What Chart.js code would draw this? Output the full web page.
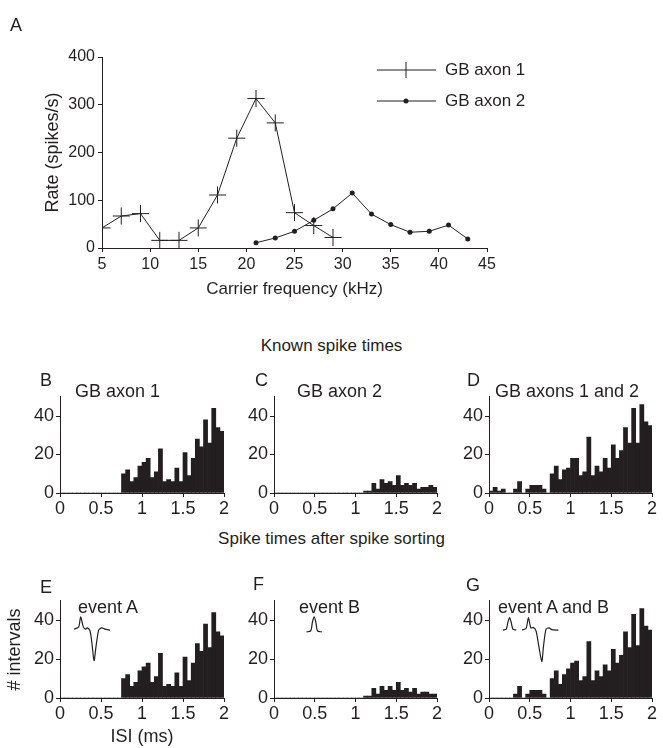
<!DOCTYPE html>
<html>
<head>
<meta charset="utf-8">
<script src="https://cdn.jsdelivr.net/npm/chart.js@4/dist/chart.umd.min.js"></script>
<style>
  html, body { margin: 0; padding: 0; background: #fff; }
  body { width: 663px; height: 748px; position: relative; overflow: hidden;
         font-family: "Liberation Sans", Arial, sans-serif; color: #231f20; }
  .box { position: absolute; }
  .txt { position: absolute; font-size: 18px; line-height: 18px; white-space: nowrap; }
  .head { position: absolute; font-size: 17px; line-height: 17px; white-space: nowrap;
          left: 0; width: 663px; text-align: center; }
</style>
</head>
<body>
<div class="box" id="boxA"><canvas id="chartA"></canvas></div>
<div class="box" id="boxB"><canvas id="chartB"></canvas></div>
<div class="box" id="boxC"><canvas id="chartC"></canvas></div>
<div class="box" id="boxD"><canvas id="chartD"></canvas></div>
<div class="box" id="boxE"><canvas id="chartE"></canvas></div>
<div class="box" id="boxF"><canvas id="chartF"></canvas></div>
<div class="box" id="boxG"><canvas id="chartG"></canvas></div>

<div class="txt" style="left:10px;top:16px">A</div>
<div class="head" style="top:337px">Known spike times</div>
<div class="head" style="top:530px">Spike times after spike sorting</div>

<div class="txt" style="left:40px;top:371px">B</div>
<div class="txt" style="left:255px;top:371px">C</div>
<div class="txt" style="left:467px;top:371px">D</div>
<div class="txt" style="left:75px;top:382px">GB axon 1</div>
<div class="txt" style="left:297px;top:382px">GB axon 2</div>
<div class="txt" style="left:495px;top:382px">GB axons 1 and 2</div>

<div class="txt" style="left:40px;top:578px">E</div>
<div class="txt" style="left:253px;top:575px">F</div>
<div class="txt" style="left:466px;top:576px">G</div>
<div class="txt" style="left:78px;top:598px">event A</div>
<div class="txt" style="left:299px;top:598px">event B</div>
<div class="txt" style="left:498px;top:598px">event A and B</div>

<script>
const INK = "#231f20";

// ---- panel A: tuning curves ----
const freqAxon1 = [5, 7, 9, 11, 13, 15, 17, 19, 21, 23, 25, 27, 29];
const rateAxon1 = [42, 67, 72, 16, 16, 42, 111, 230, 313, 262, 74, 47, 22];
const freqAxon2 = [21, 23, 25, 27, 29, 31, 33, 35, 37, 39, 41, 43];
const rateAxon2 = [11, 21, 35, 58, 82, 115, 71, 49, 33, 35, 48, 19];
const legendLabels = ["GB axon 1", "GB axon 2"];

// ---- ISI histograms, 0.05 ms bins from 0 to 2 ms ----
const BIN = 0.05;
const isiTicks = [0, 0.5, 1, 1.5, 2];
const countsAxon1 = [0,0,0,0,0, 0,0,0,0,0, 0,0,0,0,0,
  10,12,6,8,14, 16,18,8,11,23, 6,7,6,13,6, 21,9,18,28,24, 38,26,44,34,32];
const countsAxon2 = [0,0,0,0,0, 0,0,0,0,0, 0,0,0,0,0, 0,0,0,0,0, 0,0,
  1,1,5,2,7, 5,6,4,9,4, 5,4,5,2,3, 3,4,3];
const countsBoth = [1,3,1,2,0, 0,2,6,0,2, 4,4,4,2,0,
  10,14,7,12,13, 18,18,9,11,29, 9,14,11,18,13, 25,18,22,34,26, 44,26,46,37,35];
const countsEventA = [0,0,0,0,0, 0,0,0,0,0, 0,0,0,0,0,
  10,12,6,8,14, 16,18,8,11,23, 6,7,6,13,6, 21,9,18,28,24, 38,26,44,34,32];
const countsEventB = [0,0,0,0,0, 0,0,0,0,0, 0,0,0,0,0, 0,0,0,0,0, 0,0,
  1,1,5,2,6, 4,6,4,8,4, 5,3,5,2,3, 3,2,2];
const countsEventAB = [0,0,0,0,0, 0,2,6,0,2, 4,4,4,2,0,
  10,14,7,12,15, 18,19,9,11,29, 9,14,11,17,14, 25,18,22,34,26, 43,27,46,37,35];

// spike waveform insets, drawn in the histogram's own units (ms, counts)
const waveA_x = [0.171, 0.228, 0.252, 0.284, 0.309, 0.333, 0.366, 0.39, 0.415, 0.439, 0.472, 0.508, 0.549, 0.61];
const waveA_y = [35.4, 36.6, 41.7, 36.6, 35.4, 36.1, 34.5, 28, 19.2, 26.4, 34.9, 36.1, 35.4, 34.9];
const waveB_x = [0.398, 0.451, 0.472, 0.492, 0.513, 0.533, 0.586];
const waveB_y = [34, 34.5, 39.1, 41.7, 39.1, 34.5, 34];
const waveGB_x = [0.171, 0.212, 0.232, 0.252, 0.272, 0.293, 0.334];
const waveGB_y = [34.9, 35.4, 39, 41.4, 39, 35.4, 34.9];
const waveGA_x = [0.407, 0.456, 0.484, 0.513, 0.545, 0.578, 0.606, 0.648, 0.668, 0.70, 0.737, 0.77, 0.851];
const waveGA_y = [34.9, 35.9, 41.4, 36, 36.3, 34.4, 28, 18.8, 26.4, 35.4, 36.1, 35.2, 34.9];

Chart.defaults.font.family = '"Liberation Sans", Arial, sans-serif';
Chart.defaults.color = INK;
Chart.defaults.animation = false;

const pts = (xs, ys) => xs.map((x, i) => ({ x, y: ys[i] }));

function sizeBox(id, l, t, w, h) {
  const b = document.getElementById(id);
  b.style.left = l + "px"; b.style.top = t + "px";
  b.style.width = w + "px"; b.style.height = h + "px";
}

// ---- panel A ----
sizeBox("boxA", 0, 0, 663, 320);

const legendA = {
  id: "legendA",
  afterDraw(chart) {
    const ctx = chart.ctx;
    ctx.save();
    ctx.strokeStyle = INK; ctx.fillStyle = INK; ctx.lineWidth = 1;
    [70, 101].forEach((y, i) => {
      ctx.beginPath(); ctx.moveTo(377, y); ctx.lineTo(436, y); ctx.stroke();
      if (i === 0) {
        ctx.beginPath(); ctx.moveTo(406, y - 8); ctx.lineTo(406, y + 8); ctx.stroke();
      } else {
        ctx.beginPath(); ctx.arc(406, y, 2.5, 0, Math.PI * 2); ctx.fill();
      }
      ctx.font = '17px "Liberation Sans", Arial, sans-serif';
      ctx.textBaseline = "middle";
      ctx.fillText(legendLabels[i], 445, y);
    });
    ctx.restore();
  }
};

new Chart(document.getElementById("chartA"), {
  type: "line",
  data: {
    datasets: [
      { label: legendLabels[0], data: pts(freqAxon1, rateAxon1), borderColor: INK, borderWidth: 1,
        pointStyle: "cross", pointRadius: 8.5, pointBorderWidth: 1, pointBorderColor: INK },
      { label: legendLabels[1], data: pts(freqAxon2, rateAxon2), borderColor: INK, borderWidth: 1,
        pointStyle: "circle", pointRadius: 2.5, pointBackgroundColor: INK, pointBorderColor: INK, pointBorderWidth: 0 }
    ]
  },
  options: {
    responsive: true, maintainAspectRatio: false,
    layout: { padding: { left: 38, top: 57, right: 176, bottom: 16 } },
    plugins: { legend: { display: false }, tooltip: { enabled: false } },
    scales: {
      x: {
        type: "linear", min: 5, max: 45,
        ticks: { stepSize: 5, font: { size: 16 }, padding: 3, maxRotation: 0 },
        grid: { drawOnChartArea: false, tickLength: 4, color: INK },
        border: { color: INK, width: 1 },
        title: { display: true, text: "Carrier frequency (kHz)", font: { size: 17 } },
        afterFit: s => { s.height = 56; }
      },
      y: {
        min: 0, max: 400,
        ticks: { stepSize: 100, font: { size: 16 }, padding: 3 },
        grid: { drawOnChartArea: false, tickLength: 4, color: INK },
        border: { color: INK, width: 1 },
        title: { display: true, text: "Rate (spikes/s)", font: { size: 18 } },
        afterFit: s => { s.width = 64; }
      }
    }
  },
  plugins: [legendA]
});

// ---- histograms ----
const PAD = 12, YW = 60;
function hist(key, area, counts, waves, xh, withTitles) {
  sizeBox("box" + key, area[0] - YW, area[2] - PAD, area[1] - area[0] + YW + PAD, area[3] - area[2] + PAD + xh);
  const bars = counts.map((c, i) => ({ x: (i + 0.5) * BIN, y: c }));
  const datasets = [{
    type: "bar", data: bars, backgroundColor: INK, borderWidth: 0,
    barPercentage: 1, categoryPercentage: 1, order: 2
  }];
  waves.forEach(w => datasets.push({
    type: "line", data: pts(w[0], w[1]), borderColor: INK, borderWidth: 1.2,
    pointRadius: 0, tension: 0.25, order: 1
  }));
  new Chart(document.getElementById("chart" + key), {
    type: "bar",
    data: { datasets },
    options: {
      responsive: true, maintainAspectRatio: false,
      layout: { padding: { left: 0, top: PAD, right: PAD, bottom: 0 } },
      plugins: { legend: { display: false }, tooltip: { enabled: false } },
      scales: {
        x: {
          type: "linear", min: 0, max: 2, offset: false,
          afterBuildTicks: s => { s.ticks = isiTicks.map(v => ({ value: v })); },
          ticks: { font: { size: 18 }, padding: 1, maxRotation: 0, autoSkip: false, callback: v => String(v) },
          grid: { drawOnChartArea: false, tickLength: 4, color: INK, offset: false },
          border: { color: INK, width: 1 },
          title: { display: withTitles, text: "ISI (ms)", font: { size: 18 }, padding: { top: 0, bottom: 0 } },
          afterFit: s => { s.height = xh; }
        },
        y: {
          min: 0, max: 50,
          afterBuildTicks: s => { s.ticks = s.ticks.filter(t => t.value % 20 === 0); },
          ticks: { stepSize: 10, font: { size: 18 }, padding: 2 },
          grid: { drawOnChartArea: false, tickLength: 4, color: INK },
          border: { color: INK, width: 1 },
          title: { display: withTitles, text: "# intervals", font: { size: 18 }, padding: { top: 4, bottom: 0 } },
          afterFit: s => { s.width = YW; }
        }
      }
    }
  });
}

// plot areas [left, right, top(50), bottom(0)]
hist("B", [60, 224, 396, 493], countsAxon1, [], 30, false);
hist("C", [274, 437, 396, 493], countsAxon2, [], 30, false);
hist("D", [489, 652, 396, 493], countsBoth, [], 30, false);
hist("E", [60, 224, 600, 698], countsEventA, [[waveA_x, waveA_y]], 50, true);
hist("F", [274, 437, 600, 698], countsEventB, [[waveB_x, waveB_y]], 30, false);
hist("G", [489, 652, 600, 698], countsEventAB, [[waveGB_x, waveGB_y], [waveGA_x, waveGA_y]], 30, false);
</script>
</body>
</html>
